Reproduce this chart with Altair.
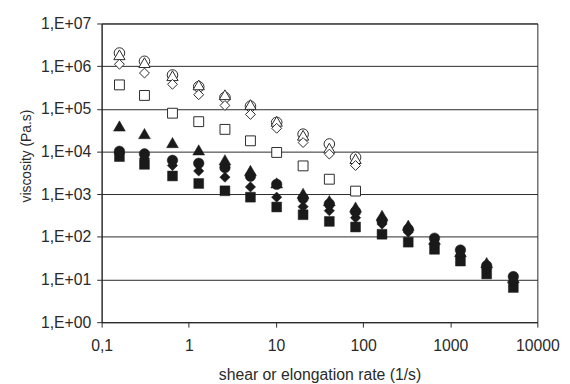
import altair as alt
import pandas as pd

# shear / elongation rate columns (1/s)
rates = [0.16, 0.31, 0.65, 1.3, 2.6, 5.1, 10.2, 20.5, 41, 82, 165, 330, 660, 1310, 2620, 5300]

# elongational viscosities (open symbols)
elong_circle = [2.03e6, 1.30e6, 6.2e5, 3.3e5, 1.85e5, 1.15e5, 4.8e4, 2.55e4, 1.5e4, 7.3e3]
elong_triangle = [1.85e6, 1.21e6, 5.97e5, 3.64e5, 2.14e5, 1.26e5, 5.1e4, 2.4e4, 1.2e4, 6.8e3]
elong_diamond = [1.11e6, 6.9e5, 3.76e5, 2.14e5, 1.2e5, 7.4e4, 3.5e4, 1.62e4, 8.7e3, 4.7e3]
elong_square = [3.64e5, 2.06e5, 7.9e4, 5.0e4, 3.3e4, 1.78e4, 9.5e3, 4.6e3, 2.24e3, 1.18e3]

# shear viscosities (filled symbols)
shear_triangle = [3.96e4, 2.63e4, 1.62e4, 1.09e4, 6.4e3, 3.6e3, 1.84e3, 1.05e3, 7.1e2, 5.0e2,
                  3.2e2, 1.87e2, 88, 45, 25, 11]
shear_circle = [1.01e4, 8.8e3, 6.2e3, 5.3e3, 4.2e3, 2.64e3, 1.7e3, 8.0e2, 5.9e2, 3.9e2,
                2.4e2, 1.5e2, 93, 49, 21, 11.7]
shear_diamond = [8.9e3, 6.9e3, 4.7e3, 3.5e3, 2.5e3, 1.48e3, 8.5e2, 5.1e2, 4.1e2, 2.8e2,
                 2.0e2, 1.3e2, 66, 37, 18, 9]
shear_square = [7.6e3, 5.0e3, 2.67e3, 1.78e3, 1.2e3, 8.5e2, 5.0e2, 3.3e2, 2.3e2, 1.7e2,
                1.15e2, 75, 51, 27, 13.5, 6.5]

x_ticks = [0.1, 1, 10, 100, 1000, 10000]
y_ticks = [1, 10, 100, 1e3, 1e4, 1e5, 1e6, 1e7]

FONT = "Liberation Sans"
INK = "#2a2a2a"

x_enc = alt.X(
    "x:Q",
    scale=alt.Scale(type="log", domain=[0.1, 10000], nice=False),
    axis=alt.Axis(
        values=x_ticks,
        labelExpr="datum.value < 1 ? '0,1' : format(datum.value, 'd')",
        title="shear or elongation rate (1/s)",
        grid=False,
        tickSize=5,
        labelPadding=11,
        labelFontSize=16,
        titleFontSize=16,
        titleFontWeight="normal",
        titleY=53,
        titleBaseline="middle",
        labelFlush=False,
    ),
)
y_enc = alt.Y(
    "y:Q",
    scale=alt.Scale(type="log", domain=[1, 1e7], nice=False),
    axis=alt.Axis(
        values=y_ticks,
        labelExpr="'1,E+0' + round(log(datum.value) / LN10)",
        title="viscosity (Pa.s)",
        grid=True,
        gridColor="#2a2a2a",
        gridWidth=1,
        tickSize=5,
        labelPadding=6,
        labelFontSize=16,
        titleFontSize=14,
        titleFontWeight="normal",
        titleAngle=-90,
        titleX=-76,
        titleY=134,
        titleBaseline="middle",
        titleAlign="center",
    ),
)


def layer(ys, shape, filled, size):
    df = pd.DataFrame({"x": rates[: len(ys)], "y": ys})
    if filled:
        mark = alt.Chart(df).mark_point(
            shape=shape, size=size, filled=True, fill="#1a1a1a", stroke="#1a1a1a",
            strokeWidth=0.5, opacity=1, fillOpacity=1,
        )
    else:
        mark = alt.Chart(df).mark_point(
            shape=shape, size=size, filled=True, fill="white", stroke=INK,
            strokeWidth=1, opacity=1, fillOpacity=1,
        )
    return mark.encode(x=x_enc, y=y_enc)


layers = [
    layer(shear_square, "square", True, 100),
    layer(shear_diamond, "diamond", True, 110),
    layer(shear_circle, "circle", True, 115),
    layer(shear_triangle, "triangle-up", True, 144),
    layer(elong_circle, "circle", False, 115),
    layer(elong_triangle, "triangle-up", False, 130),
    layer(elong_diamond, "diamond", False, 100),
    layer(elong_square, "square", False, 100),
]

chart = (
    alt.layer(*layers)
    .properties(
        width=442,
        height=303,
        autosize=alt.AutoSizeParams(type="none"),
        padding={"left": 95, "top": 13, "right": 25, "bottom": 60},
        background="white",
    )
    .configure_view(stroke="#2a2a2a", strokeWidth=1)
    .configure_axis(
        domainColor="#2a2a2a",
        tickColor="#2a2a2a",
        labelColor=INK,
        titleColor=INK,
        labelFont=FONT,
        titleFont=FONT,
    )
)

chart.save("out.html", embed_options={"renderer": "svg", "actions": False})
